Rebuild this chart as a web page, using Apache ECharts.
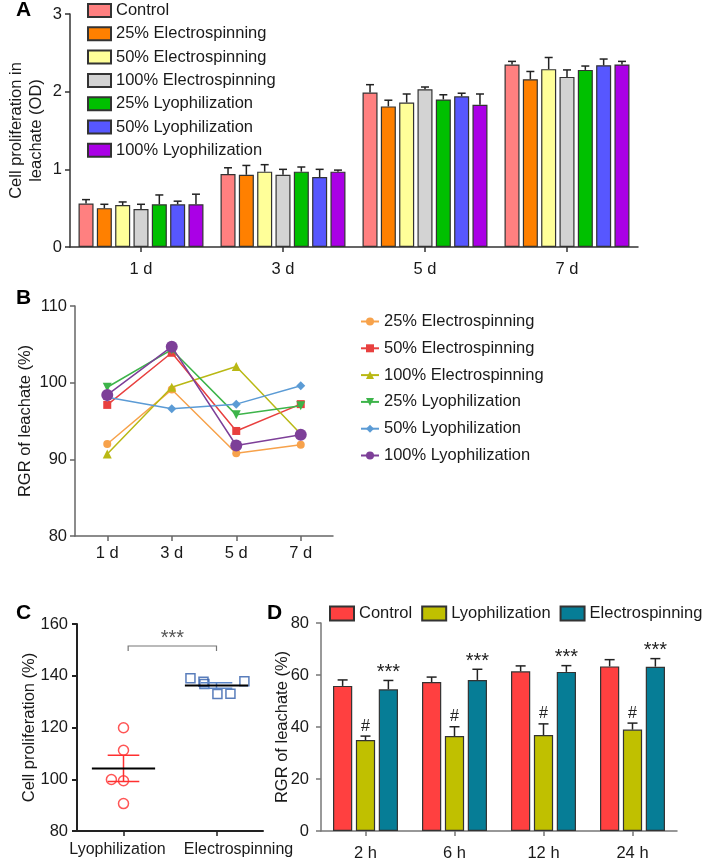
<!DOCTYPE html>
<html><head><meta charset="utf-8">
<script src="https://cdn.jsdelivr.net/npm/echarts@6/dist/echarts.min.js"></script>
<style>html,body{margin:0;padding:0;background:#fff}#c{width:702px;height:860px}</style>
</head><body><div id="c"></div>
<script>
// ---------- Panel A data ----------
const aDays = ['1 d', '3 d', '5 d', '7 d'];
const aNames = ['Control', '25% Electrospinning', '50% Electrospinning', '100% Electrospinning', '25% Lyophilization', '50% Lyophilization', '100% Lyophilization'];
const aControl = [0.56, 0.94, 1.99, 2.35];
const aControlErr = [0.05, 0.08, 0.10, 0.04];
const aE25 = [0.50, 0.93, 1.81, 2.16];
const aE25Err = [0.05, 0.12, 0.08, 0.10];
const aE50 = [0.54, 0.97, 1.86, 2.29];
const aE50Err = [0.04, 0.09, 0.11, 0.15];
const aE100 = [0.49, 0.93, 2.03, 2.19];
const aE100Err = [0.06, 0.07, 0.03, 0.09];
const aL25 = [0.55, 0.97, 1.90, 2.28];
const aL25Err = [0.12, 0.06, 0.06, 0.05];
const aL50 = [0.55, 0.90, 1.94, 2.34];
const aL50Err = [0.04, 0.10, 0.04, 0.08];
const aL100 = [0.55, 0.97, 1.83, 2.35];
const aL100Err = [0.13, 0.02, 0.14, 0.04];
const aYTicks = [0, 1, 2, 3];

// ---------- Panel B data ----------
const bDays = ['1 d', '3 d', '5 d', '7 d'];
const bNames = ['25% Electrospinning', '50% Electrospinning', '100% Electrospinning', '25% Lyophilization', '50% Lyophilization', '100% Lyophilization'];
const bE25 = [92.0, 99.1, 90.8, 91.9];
const bE50 = [97.1, 103.9, 93.7, 97.2];
const bE100 = [90.7, 99.4, 102.1, 93.3];
const bL25 = [99.4, 104.3, 95.8, 97.0];
const bL50 = [98.1, 96.6, 97.2, 99.6];
const bL100 = [98.4, 104.7, 91.8, 93.2];

// ---------- Panel C data ----------
const cGroups = ['Lyophilization', 'Electrospinning'];
const cLyo = [119.9, 111.2, 99.9, 99.4, 90.6];
const cLyoJitter = [0, 0, -0.13, 0, 0];
const cElec = [139.0, 137.7, 136.8, 132.9, 133.0, 137.9];
const cElecJitter = [-0.28, -0.14, -0.13, 0.01, 0.15, 0.30];
const cSig = '***';

// ---------- Panel D data ----------
const dTimes = ['2 h', '6 h', '12 h', '24 h'];
const dNames = ['Control', 'Lyophilization', 'Electrospinning'];
const dControl = [55.8, 57.3, 61.4, 63.3];
const dControlErr = [2.3, 1.9, 2.1, 2.6];
const dLyo = [35.0, 36.5, 36.9, 39.0];
const dLyoErr = [1.5, 3.6, 4.3, 2.5];
const dElec = [54.5, 58.1, 61.2, 63.2];
const dElecErr = [3.4, 4.1, 2.4, 3.1];
const dLyoMark = ['#', '#', '#', '#'];
const dElecMark = ['***', '***', '***', '***'];

// ---------- styling ----------
const FONT = '"Liberation Sans", Arial, sans-serif';
const TXT = '#1a1a1a';
const FS = 16.5;
const aColors = ['#FF8080', '#FF8000', '#FFFF99', '#D3D3D3', '#00C000', '#5757FF', '#AA00E6'];
const bColors = ['#F7A24B', '#E8403F', '#B9B814', '#3DB44A', '#5B9BD5', '#7D3F98'];
const bSymbols = ['circle', 'rect', 'triangle', 'triangle', 'diamond', 'circle'];
const bRot = [0, 0, 0, 180, 0, 0];
const bSizes = [8, 8, 9, 9, 9, 12];
const dColors = ['#FF4040', '#C0C000', '#067D96'];

const A_CATGAP = 0.12, A_BARGAP = 0.22;
const D_CATGAP = 0.27, D_BARGAP = 0.19;

function errRender(n, idx, catGap, barGap, capW, color) {
  return function (params, api) {
    const cat = api.value(0), v = api.value(1), e = api.value(2);
    const base = api.coord([cat, v]);
    const top = api.coord([cat, v + e]);
    const band = api.size([1, 0])[0];
    const gw = band * (1 - catGap);
    const bw = gw / (n + (n - 1) * barGap);
    const x = base[0] - gw / 2 + idx * bw * (1 + barGap) + bw / 2;
    return { type: 'group', children: [
      { type: 'line', shape: { x1: x, y1: base[1], x2: x, y2: top[1] }, style: { stroke: color, lineWidth: 1.5 } },
      { type: 'line', shape: { x1: x - capW / 2, y1: top[1], x2: x + capW / 2, y2: top[1] }, style: { stroke: color, lineWidth: 1.5 } }
    ] };
  };
}

function axisCommon(color, w) {
  return {
    axisLine: { show: true, lineStyle: { color: color, width: w } },
    axisTick: { show: true, length: 5, lineStyle: { color: color, width: w } },
    splitLine: { show: false }
  };
}

const series = [];
const legendA = [], legendB = [], legendD = [];

// Panel A
const aVals = [aControl, aE25, aE50, aE100, aL25, aL50, aL100];
const aErrs = [aControlErr, aE25Err, aE50Err, aE100Err, aL25Err, aL50Err, aL100Err];
aNames.forEach((nm, i) => {
  series.push({
    type: 'bar', name: nm, xAxisIndex: 0, yAxisIndex: 0,
    data: aVals[i], barCategoryGap: (A_CATGAP * 100) + '%', barGap: (A_BARGAP * 100) + '%',
    itemStyle: { color: aColors[i], borderColor: '#333', borderWidth: 1.2 },
    silent: true, z: 2
  });
  legendA.push(nm);
});
aNames.forEach((nm, i) => {
  series.push({
    type: 'custom', name: 'errA' + i, xAxisIndex: 0, yAxisIndex: 0,
    data: aVals[i].map((v, k) => [k, v, aErrs[i][k]]),
    encode: { x: 0, y: 1 }, renderItem: errRender(7, i, A_CATGAP, A_BARGAP, 8, '#222'), silent: true, z: 3
  });
});

// Panel B
const bVals = [bE25, bE50, bE100, bL25, bL50, bL100];
bNames.forEach((nm, i) => {
  series.push({
    type: 'line', name: 'B:' + nm, xAxisIndex: 1, yAxisIndex: 1, data: bVals[i],
    symbol: bSymbols[i], symbolRotate: bRot[i], symbolSize: bSizes[i], showAllSymbol: true,
    lineStyle: { color: bColors[i], width: 1.5 }, itemStyle: { color: bColors[i], borderWidth: 0 },
    silent: true, z: 2 + i
  });
  legendB.push('B:' + nm);
});

// Panel C
function meanSem(arr) {
  const m = arr.reduce((a, b) => a + b, 0) / arr.length;
  const sd = Math.sqrt(arr.reduce((a, b) => a + (b - m) * (b - m), 0) / (arr.length - 1));
  return [m, sd / Math.sqrt(arr.length)];
}
const cLyoMS = meanSem(cLyo), cElecMS = meanSem(cElec);
series.push({
  type: 'scatter', name: 'cLyo', xAxisIndex: 3, yAxisIndex: 2,
  data: cLyo.map((v, k) => [0.5 + cLyoJitter[k], v]),
  symbol: 'circle', symbolSize: 10,
  itemStyle: { color: 'rgba(0,0,0,0)', borderColor: '#FF2A2A', borderWidth: 1.5 }, silent: true, z: 3
});
series.push({
  type: 'scatter', name: 'cElec', xAxisIndex: 3, yAxisIndex: 2,
  data: cElec.map((v, k) => [1.5 + cElecJitter[k], v]),
  symbol: 'rect', symbolSize: 9,
  itemStyle: { color: 'rgba(0,0,0,0)', borderColor: '#2F5DAA', borderWidth: 1.5 }, silent: true, z: 3
});
series.push({
  type: 'custom', name: 'cStats', xAxisIndex: 3, yAxisIndex: 2,
  data: [[0.5, cLyoMS[0], cLyoMS[1], 0], [1.5, cElecMS[0], cElecMS[1], 1]],
  encode: { x: 0, y: 1 },
  renderItem: function (params, api) {
    const x = api.value(0), m = api.value(1), s = api.value(2);
    const col = api.value(3) === 0 ? '#FF3030' : '#5B86C8';
    const mL = api.coord([x - 0.34, m]), mR = api.coord([x + 0.34, m]);
    const uL = api.coord([x - 0.17, m + s]), uR = api.coord([x + 0.17, m + s]);
    const lL = api.coord([x - 0.17, m - s]), lR = api.coord([x + 0.17, m - s]);
    return { type: 'group', children: [
      { type: 'line', shape: { x1: uL[0], y1: uL[1], x2: uR[0], y2: uR[1] }, style: { stroke: col, lineWidth: 1.5 } },
      { type: 'line', shape: { x1: lL[0], y1: lL[1], x2: lR[0], y2: lR[1] }, style: { stroke: col, lineWidth: 1.5 } },
      { type: 'line', shape: { x1: (uL[0] + uR[0]) / 2, y1: uL[1], x2: (lL[0] + lR[0]) / 2, y2: lL[1] }, style: { stroke: col, lineWidth: 1.5 } },
      { type: 'line', shape: { x1: mL[0], y1: mL[1], x2: mR[0], y2: mR[1] }, style: { stroke: '#000', lineWidth: 2 } }
    ] };
  }, silent: true, z: 4
});
series.push({
  type: 'custom', name: 'cSig', xAxisIndex: 3, yAxisIndex: 2,
  data: [[0.55, 151.5, 1.5]], encode: { x: 0, y: 1 },
  renderItem: function (params, api) {
    const p1 = api.coord([api.value(0), api.value(1)]);
    const p2 = api.coord([api.value(2), api.value(1)]);
    const drop = 5;
    return { type: 'group', children: [
      { type: 'polyline', shape: { points: [[p1[0], p1[1] + drop], p1, p2, [p2[0], p2[1] + drop]] }, style: { stroke: '#777', lineWidth: 1.2, fill: null } },
      { type: 'text', x: (p1[0] + p2[0]) / 2, y: p1[1] + 2, style: { text: cSig, fontSize: 20, fontFamily: FONT, fill: '#555', align: 'center', verticalAlign: 'bottom' } }
    ] };
  }, silent: true, z: 4
});

// Panel D
const dVals = [dControl, dLyo, dElec];
const dErrs = [dControlErr, dLyoErr, dElecErr];
dNames.forEach((nm, i) => {
  series.push({
    type: 'bar', name: 'D:' + nm, xAxisIndex: 2, yAxisIndex: 3, data: dVals[i],
    barCategoryGap: (D_CATGAP * 100) + '%', barGap: (D_BARGAP * 100) + '%',
    itemStyle: { color: dColors[i], borderColor: '#333', borderWidth: 1.2 }, silent: true, z: 2
  });
  legendD.push('D:' + nm);
});
dNames.forEach((nm, i) => {
  series.push({
    type: 'custom', name: 'errD' + i, xAxisIndex: 2, yAxisIndex: 3,
    data: dVals[i].map((v, k) => [k, v, dErrs[i][k]]),
    encode: { x: 0, y: 1 }, renderItem: errRender(3, i, D_CATGAP, D_BARGAP, 10, '#222'), silent: true, z: 3
  });
});
function markRender(idx, marks, fontSize, lift) {
  return function (params, api) {
    const cat = api.value(0), top = api.value(1);
    const p = api.coord([cat, top]);
    const band = api.size([1, 0])[0];
    const gw = band * (1 - D_CATGAP);
    const bw = gw / (3 + 2 * D_BARGAP);
    const x = p[0] - gw / 2 + idx * bw * (1 + D_BARGAP) + bw / 2;
    return { type: 'text', x: x, y: p[1] + lift, style: { text: marks[params.dataIndex], fontSize: fontSize, fontFamily: FONT, fill: '#222', align: 'center', verticalAlign: 'bottom' } };
  };
}
series.push({
  type: 'custom', name: 'dLyoMark', xAxisIndex: 2, yAxisIndex: 3,
  data: dLyo.map((v, k) => [k, v + dLyoErr[k]]), encode: { x: 0, y: 1 },
  renderItem: markRender(1, dLyoMark, 16, -2), silent: true, z: 4
});
series.push({
  type: 'custom', name: 'dElecMark', xAxisIndex: 2, yAxisIndex: 3,
  data: dElec.map((v, k) => [k, v + dElecErr[k]]), encode: { x: 0, y: 1 },
  renderItem: markRender(2, dElecMark, 20, 2), silent: true, z: 4
});

const labelFont = { fontFamily: FONT, color: TXT };
const stripPrefix = n => n.replace(/^[BD]:/, '');

function catAxis(grid, data, color, w, margin, extraLabel) {
  return Object.assign({ type: 'category', gridIndex: grid, data: data, boundaryGap: true, position: 'bottom',
    axisLabel: Object.assign({ fontSize: FS, margin: margin, interval: 0 }, labelFont, extraLabel || {}) }, axisCommon(color, w),
    { axisTick: { show: true, alignWithLabel: true, length: 5, lineStyle: { color: color, width: 1.5 } } });
}
function yName(extra) {
  return Object.assign({ nameLocation: 'middle', nameRotate: 90, nameMoveOverlap: false }, extra);
}

const option = {
  animation: false,
  backgroundColor: '#fff',
  textStyle: { fontFamily: FONT },
  grid: [
    { left: 70, top: 14, width: 568, height: 233, outerBoundsMode: 'none' },
    { left: 75, top: 306, width: 258, height: 230, outerBoundsMode: 'none' },
    { left: 77, top: 624, width: 186, height: 207, outerBoundsMode: 'none' },
    { left: 321, top: 623, width: 356, height: 208, outerBoundsMode: 'none' }
  ],
  xAxis: [
    catAxis(0, aDays, '#333', 1.5, 14),
    catAxis(1, bDays, '#666', 1.5, 9),
    catAxis(3, dTimes, '#777', 1.5, 14),
    { type: 'value', gridIndex: 2, min: 0, max: 2, show: false, position: 'bottom' },
    catAxis(2, cGroups, '#222', 2, 11, {
      fontSize: 16,
      formatter: (v, i) => (i === 0 ? '{l|' : '{r|') + v + '}',
      rich: { l: { padding: [0, 12, 0, 0], fontSize: 16, fontFamily: FONT, color: TXT },
              r: { padding: [0, 0, 0, 44], fontSize: 16, fontFamily: FONT, color: TXT } }
    })
  ],
  yAxis: [
    Object.assign(yName({ type: 'value', gridIndex: 0, min: aYTicks[0], max: aYTicks[aYTicks.length - 1], interval: 1,
      name: 'Cell proliferation in\nleachate (OD)', nameGap: 24,
      nameTextStyle: Object.assign({ fontSize: FS, lineHeight: 20 }, labelFont),
      axisLabel: Object.assign({ fontSize: FS, margin: 8 }, labelFont) }), axisCommon('#333', 1.5)),
    Object.assign(yName({ type: 'value', gridIndex: 1, min: 80, max: 110, interval: 10,
      name: 'RGR of leachate (%)', nameGap: 41,
      nameTextStyle: Object.assign({ fontSize: FS }, labelFont),
      axisLabel: Object.assign({ fontSize: FS, margin: 8 }, labelFont) }), axisCommon('#666', 1.5)),
    Object.assign(yName({ type: 'value', gridIndex: 2, min: 80, max: 160, interval: 20,
      name: 'Cell proliferation (%)', nameGap: 39,
      nameTextStyle: Object.assign({ fontSize: FS }, labelFont),
      axisLabel: Object.assign({ fontSize: FS, margin: 9 }, labelFont) }), axisCommon('#222', 2)),
    Object.assign(yName({ type: 'value', gridIndex: 3, min: 0, max: 80, interval: 20,
      name: 'RGR of leachate (%)', nameGap: 30,
      nameTextStyle: Object.assign({ fontSize: FS }, labelFont),
      axisLabel: Object.assign({ fontSize: FS, margin: 12 }, labelFont) }), axisCommon('#777', 1.5))
  ],
  legend: [
    { data: legendA, orient: 'vertical', left: 87, top: 2, padding: 0, itemWidth: 23, itemHeight: 13, itemGap: 6.3,
      textStyle: Object.assign({ fontSize: FS }, labelFont), selectedMode: false, icon: 'rect' },
    { data: legendB, orient: 'vertical', left: 360, top: 313, padding: 0, itemWidth: 18, itemHeight: 10, itemGap: 9.8,
      textStyle: Object.assign({ fontSize: FS }, labelFont), selectedMode: false, formatter: stripPrefix },
    { data: legendD, orient: 'horizontal', left: 329, top: 605, padding: 0, width: 500, itemWidth: 24, itemHeight: 14, itemGap: 9,
      textStyle: Object.assign({ fontSize: FS }, labelFont), selectedMode: false, formatter: stripPrefix, icon: 'rect' }
  ],
  graphic: [
    { type: 'text', left: 16, top: 0, style: { text: 'A', fontSize: 21, fontWeight: 'bold', fontFamily: FONT, fill: '#000' } },
    { type: 'text', left: 16, top: 288, style: { text: 'B', fontSize: 21, fontWeight: 'bold', fontFamily: FONT, fill: '#000' } },
    { type: 'text', left: 16, top: 603, style: { text: 'C', fontSize: 21, fontWeight: 'bold', fontFamily: FONT, fill: '#000' } },
    { type: 'text', left: 267, top: 603, style: { text: 'D', fontSize: 21, fontWeight: 'bold', fontFamily: FONT, fill: '#000' } }
  ],
  series: series
};

const chart = echarts.init(document.getElementById('c'));
chart.setOption(option);
</script>
</body></html>
